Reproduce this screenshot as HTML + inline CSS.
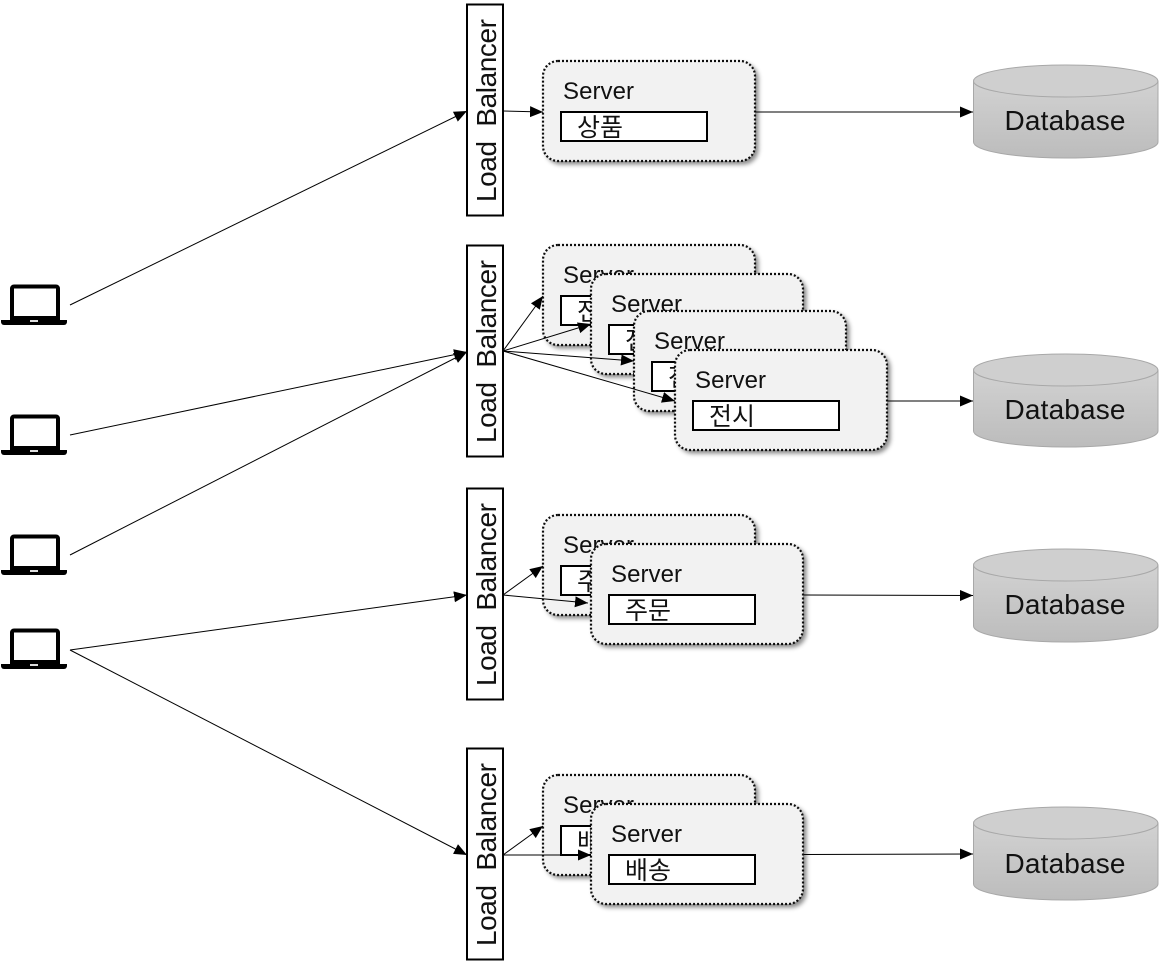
<!DOCTYPE html>
<html><head><meta charset="utf-8">
<style>
html,body{margin:0;padding:0;background:#fff;width:1159px;height:965px;overflow:hidden}
svg{display:block}
text{font-family:"Liberation Sans","Noto Sans CJK KR",sans-serif;fill:#111}
.s{font-size:24px}
.k{font-size:25px;transform:translateY(1px)}
.d{font-size:28px}
.l{font-size:28px}
.box{fill:#f2f2f2;stroke:#111;stroke-width:2.2;stroke-dasharray:2 2;filter:url(#sh)}
.in{fill:#fff;stroke:#000;stroke-width:2}
.lb{fill:#fff;stroke:#000;stroke-width:2}
.a{stroke:#000;stroke-width:1;fill:none;marker-end:url(#ar)}
.db{fill:url(#g);stroke:#a8a8a8;stroke-width:1}
.dt{fill:#cfcfcf;stroke:#a8a8a8;stroke-width:1}
</style></head><body>
<svg width="1159" height="965" viewBox="0 0 1159 965" xmlns="http://www.w3.org/2000/svg">
<defs>
<marker id="ar" markerUnits="userSpaceOnUse" markerWidth="14" markerHeight="12" refX="13" refY="5.5" orient="auto"><path d="M0 0L13 5.5L0 11Z" fill="#000"/></marker>
<filter id="sh" x="-10%" y="-10%" width="125%" height="130%"><feDropShadow dx="3" dy="3" stdDeviation="2" flood-color="#000" flood-opacity=".45"/></filter>
<linearGradient id="g" x1="0" y1="0" x2="0" y2="1"><stop offset="0" stop-color="#d2d2d2"/><stop offset="1" stop-color="#bcbcbc"/></linearGradient>
<g id="lap">
<path d="M12 2.5a2 2 0 0 1 2-2H56a2 2 0 0 1 2 2V32H12Z" fill="#fff" stroke="#000" stroke-width="4" transform="translate(0 1)"/>
<path d="M1 35H67V37a3 3 0 0 1-3 3H4a3 3 0 0 1-3-3Z" fill="#000"/>
<rect x="30" y="35" width="8" height="2" fill="#ddd"/>
</g>
</defs>

<use href="#lap" x="0" y="285"/>
<use href="#lap" x="0" y="415"/>
<use href="#lap" x="0" y="535"/>
<use href="#lap" x="0" y="629"/>

<!-- Load balancers -->
<rect class="lb" x="467" y="4.5" width="36" height="211"/>
<rect class="lb" x="467" y="245.5" width="36" height="211"/>
<rect class="lb" x="467" y="488.5" width="36" height="211"/>
<rect class="lb" x="467" y="748.5" width="36" height="211"/>
<text class="l" transform="translate(496 202) rotate(-90)" textLength="183" xml:space="preserve">Load  Balancer</text>
<text class="l" transform="translate(496 443) rotate(-90)" textLength="183" xml:space="preserve">Load  Balancer</text>
<text class="l" transform="translate(496 686) rotate(-90)" textLength="183" xml:space="preserve">Load  Balancer</text>
<text class="l" transform="translate(496 946) rotate(-90)" textLength="183" xml:space="preserve">Load  Balancer</text>

<!-- Row 1 -->
<rect class="box" x="543" y="61" width="212" height="100" rx="15"/>
<text class="s" x="563" y="99" textLength="71">Server</text>
<rect class="in" x="561" y="112" width="146" height="29"/>
<text class="k" x="577" y="135">상품</text>

<!-- Row 2 -->
<rect class="box" x="543" y="245" width="212" height="100" rx="15"/>
<text class="s" x="563" y="283" textLength="71">Server</text>
<rect class="in" x="561" y="296" width="146" height="29"/>
<text class="k" x="577" y="319">전시</text>
<rect class="box" x="591" y="274" width="212" height="100" rx="15"/>
<text class="s" x="611" y="312" textLength="71">Server</text>
<rect class="in" x="609" y="325" width="146" height="29"/>
<text class="k" x="625" y="348">전시</text>
<rect class="box" x="634" y="311" width="212" height="100" rx="15"/>
<text class="s" x="654" y="349" textLength="71">Server</text>
<rect class="in" x="652" y="362" width="146" height="29"/>
<text class="k" x="668" y="385">전시</text>
<rect class="box" x="675" y="350" width="212" height="100" rx="15"/>
<text class="s" x="695" y="388" textLength="71">Server</text>
<rect class="in" x="693" y="401" width="146" height="29"/>
<text class="k" x="709" y="424">전시</text>

<!-- Row 3 -->
<rect class="box" x="543" y="515" width="212" height="100" rx="15"/>
<text class="s" x="563" y="553" textLength="71">Server</text>
<rect class="in" x="561" y="566" width="146" height="29"/>
<text class="k" x="577" y="589">주문</text>
<rect class="box" x="591" y="544" width="212" height="100" rx="15"/>
<text class="s" x="611" y="582" textLength="71">Server</text>
<rect class="in" x="609" y="595" width="146" height="29"/>
<text class="k" x="625" y="618">주문</text>

<!-- Row 4 -->
<rect class="box" x="543" y="775" width="212" height="100" rx="15"/>
<text class="s" x="563" y="813" textLength="71">Server</text>
<rect class="in" x="561" y="826" width="146" height="29"/>
<text class="k" x="577" y="849">배송</text>
<rect class="box" x="591" y="804" width="212" height="100" rx="15"/>
<text class="s" x="611" y="842" textLength="71">Server</text>
<rect class="in" x="609" y="855" width="146" height="29"/>
<text class="k" x="625" y="878">배송</text>

<!-- Databases -->
<path class="db" d="M973.5 81V142A92 16 0 0 0 1158 142V81Z"/><ellipse class="dt" cx="1065.7" cy="81" rx="92.2" ry="16"/>
<text class="d" x="1065" y="130" text-anchor="middle" textLength="121">Database</text>
<path class="db" d="M973.5 370V431A92 16 0 0 0 1158 431V370Z"/><ellipse class="dt" cx="1065.7" cy="370" rx="92.2" ry="16"/>
<text class="d" x="1065" y="419" text-anchor="middle" textLength="121">Database</text>
<path class="db" d="M973.5 565V626A92 16 0 0 0 1158 626V565Z"/><ellipse class="dt" cx="1065.7" cy="565" rx="92.2" ry="16"/>
<text class="d" x="1065" y="614" text-anchor="middle" textLength="121">Database</text>
<path class="db" d="M973.5 823V884A92 16 0 0 0 1158 884V823Z"/><ellipse class="dt" cx="1065.7" cy="823" rx="92.2" ry="16"/>
<text class="d" x="1065" y="873" text-anchor="middle" textLength="121">Database</text>

<!-- Connectors -->
<line class="a" x1="70" y1="305" x2="467" y2="111"/>
<line class="a" x1="70" y1="435" x2="467" y2="352"/>
<line class="a" x1="70" y1="555" x2="467" y2="352"/>
<line class="a" x1="70" y1="650" x2="467" y2="595"/>
<line class="a" x1="70" y1="650" x2="467" y2="855"/>
<line class="a" x1="503" y1="111" x2="543" y2="112"/>
<line class="a" x1="755" y1="112" x2="973" y2="112"/>
<line class="a" x1="503" y1="351" x2="543" y2="296"/>
<line class="a" x1="503" y1="351" x2="591" y2="324"/>
<line class="a" x1="503" y1="351" x2="634" y2="361"/>
<line class="a" x1="503" y1="351" x2="675" y2="401"/>
<line class="a" x1="888" y1="401" x2="973" y2="401"/>
<line class="a" x1="503" y1="595" x2="543" y2="566"/>
<line class="a" x1="503" y1="595" x2="588" y2="603"/>
<line class="a" x1="804" y1="595" x2="973" y2="595.5"/>
<line class="a" x1="503" y1="855" x2="543" y2="826"/>
<line class="a" x1="503" y1="855" x2="591" y2="855"/>
<line class="a" x1="804" y1="854.5" x2="973" y2="854"/>
</svg>
</body></html>
